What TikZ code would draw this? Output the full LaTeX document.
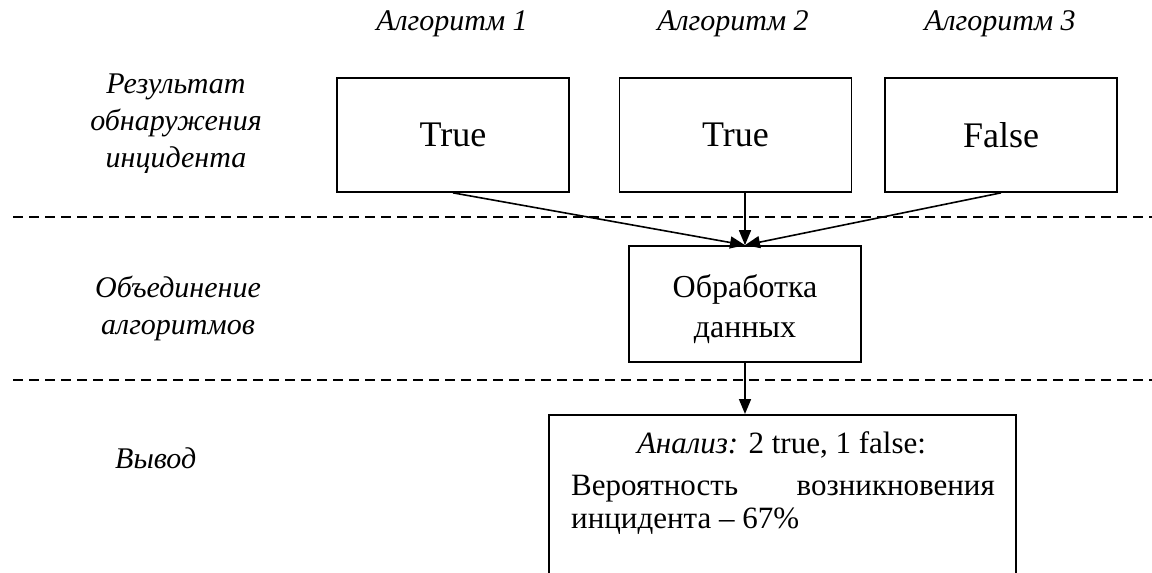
\documentclass[tikz,border=0pt]{standalone}
\usepackage{fontspec}
\setmainfont{Liberation Serif}
\usetikzlibrary{arrows.meta}
\tikzset{
  lbl/.style={font=\fontsize{30}{37}\selectfont\itshape, align=center, inner sep=0pt},
  resbox/.style={draw, line width=1.7pt, minimum width=232pt, minimum height=114pt,
    font=\fontsize{36}{40}\selectfont, inner sep=0pt},
  procbox/.style={draw, line width=1.7pt, minimum width=232pt, minimum height=116pt, inner sep=0pt},
  proctxt/.style={font=\fontsize{32}{40}\selectfont, align=center, inner sep=0pt},
  outbox/.style={draw, line width=1.7pt, minimum width=467pt, minimum height=200pt, inner sep=0pt},
  outtxt/.style={font=\fontsize{31}{34}\selectfont, inner sep=0pt},
  sep/.style={line width=1.3pt, dash pattern=on 10pt off 6pt},
  arr/.style={line width=1.6pt, -{Triangle[length=15pt,width=12pt]}},
}
\begin{document}
\begin{tikzpicture}[x=1pt,y=-1pt]
\useasboundingbox (0,0) rectangle (1152,573);
\clip (0,0) rectangle (1152,573);
% headers
\node[lbl] (h1) at (452,24) {Алгоритм 1};
\node[lbl] (h2) at (733,24) {Алгоритм 2};
\node[lbl] (h3) at (1000,24) {Алгоритм 3};
% left labels
\node[lbl] (l1) at (176,124) {Результат\\обнаружения\\инцидента};
\node[lbl] (l2) at (178,308) {Объединение\\алгоритмов};
\node[lbl, anchor=base west] (l3) at (115,468) {Вывод};
% result boxes
\node[resbox] (b1) at (453,135) {True};
\node[resbox] (b2) at (735.5,135) {True};
\node[resbox] (b3) at (1001,135) {False};
% separators
\coordinate (d1a) at (13,217); \coordinate (d1b) at (1152,217);
\coordinate (d2a) at (13,380); \coordinate (d2b) at (1152,380);
\draw[sep] (d1a) -- (d1b);
\draw[sep] (d2a) -- (d2b);
% processing
\node[procbox] (p) at (745,304) {};
\node[proctxt, anchor=base] (pt) at (745,337) {Обработка\\данных};
\draw[arr] (b1.south) -- (p.north);
\draw[arr] (p.north |- b2.south) -- (p.north);
\draw[arr] (b3.south) -- (p.north);
% output
\node[outbox, anchor=north west] (out) at (548,414) {};
\draw[arr] (p.south) -- (p.south |- out.north);
\node[outtxt, anchor=base] (o1) at (781.5,453) {\textit{Анализ:} 2 true, 1 false:};
\node[outtxt, anchor=base west] (o2a) at (571,495) {Вероятность};
\node[outtxt, anchor=base east] (o2b) at (995,495) {возникновения};
\node[outtxt, anchor=base west] (o3) at (571,528) {инцидента – 67\%};
\end{tikzpicture}
\end{document}
